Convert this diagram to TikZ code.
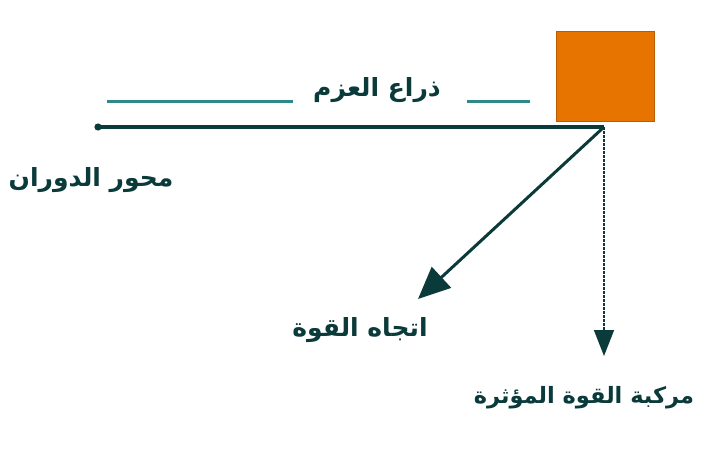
\documentclass[tikz,border=0pt]{standalone}
\usepackage{fontspec}
\newfontfamily\arabicfont[Script=Arabic]{DejaVu Sans}
\TeXXeTstate=1
\usetikzlibrary{arrows.meta}
\definecolor{inkteal}{HTML}{0B3A3A}
\definecolor{lineteal}{HTML}{2E8A8A}
\definecolor{boxorange}{HTML}{E87400}
\tikzset{
  lbl/.style={text=inkteal, font=\arabicfont\bfseries\fontsize{25}{28}\selectfont, inner sep=1pt},
  armline/.style={draw=lineteal, line width=3pt},
  lever/.style={draw=inkteal, line width=4.5pt},
  force/.style={draw=inkteal, line width=3pt, -{Triangle[length=32pt,width=28pt]}},
  comp/.style={draw=inkteal, line width=1.6pt, dash pattern=on 2.5pt off 1.5pt, -{Triangle[length=26pt,width=20pt]}},
}
\begin{document}
\begin{tikzpicture}[x=1pt,y=-1pt]
\useasboundingbox[fill=white] (0,0) rectangle (720,452);
% orange block
\node[fill=boxorange, draw=boxorange!80!black, line width=0.6pt, minimum width=98pt, minimum height=90pt, inner sep=0pt, anchor=north west] (box) at (556,31) {};
% lever
\coordinate (pivot) at (98,127);
\coordinate (tip) at (604,127);
\draw[lever] (pivot) -- (tip);
\fill[inkteal] (pivot) circle (3.6pt);
% moment arm label
\coordinate (a1) at (107,101);
\coordinate (a2) at (293,101);
\coordinate (a3) at (467,101);
\coordinate (a4) at (530,101);
\draw[armline] (a1) -- (a2);
\draw[armline] (a3) -- (a4);
\node[lbl] (arm) at (377,90) {\beginR ذراع العزم\endR};
% pivot label
\node[lbl] (axis) at (91,180) {\beginR محور الدوران\endR};
% force arrow
\coordinate (fend) at (418,299);
\draw[force] (tip) -- (fend);
\node[lbl] (flabel) at (360,330) {\beginR اتجاه القوة\endR};
% component arrow
\coordinate (cend) at (604,356);
\draw[comp] (tip) -- (cend);
\node[lbl, font=\arabicfont\bfseries\fontsize{22.5}{26}\selectfont] (clabel) at (584,398) {\beginR مركبة القوة المؤثرة\endR};
\end{tikzpicture}
\end{document}
